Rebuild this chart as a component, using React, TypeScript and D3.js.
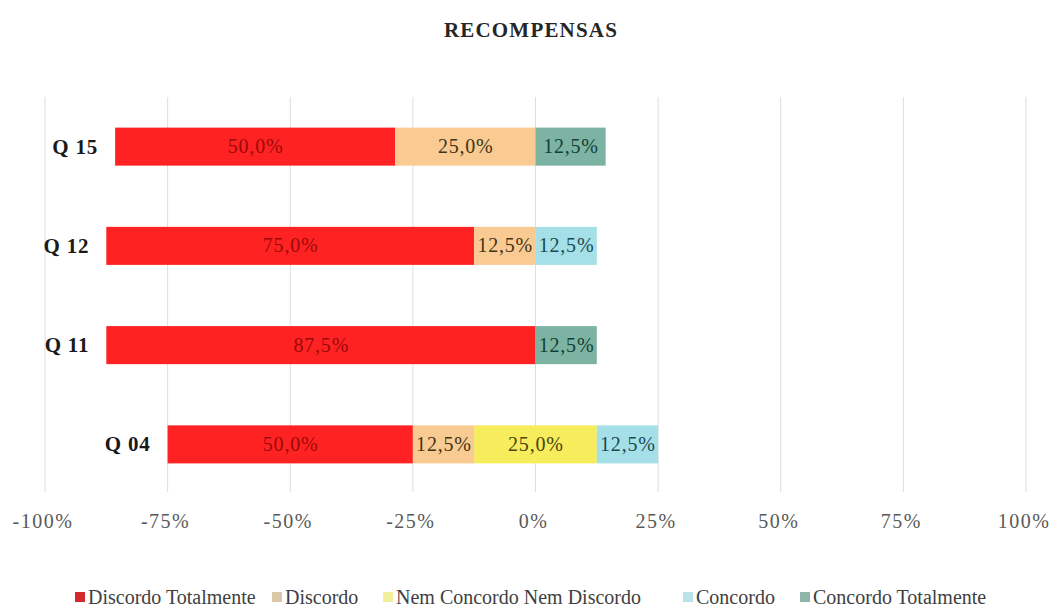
import React from "react";
import * as d3 from "d3";

// ---- data ----
const categories = ["Q 15", "Q 12", "Q 11", "Q 04"];
const seriesNames = [
  "Discordo Totalmente",
  "Discordo",
  "Nem Concordo Nem Discordo",
  "Concordo",
  "Concordo Totalmente",
];
// bar lengths as drawn (percent)
const discordoTotalmente = [57.1, 75.0, 87.5, 50.0];
const discordo = [28.6, 12.5, 0, 12.5];
const nemConcordoNemDiscordo = [0, 0, 0, 25.0];
const concordo = [0, 12.5, 0, 12.5];
const concordoTotalmente = [14.3, 0, 12.5, 0];
// data labels as printed
const discordoTotalmenteLabels = ["50,0%", "75,0%", "87,5%", "50,0%"];
const discordoLabels = ["25,0%", "12,5%", "", "12,5%"];
const nemConcordoNemDiscordoLabels = ["", "", "", "25,0%"];
const concordoLabels = ["", "12,5%", "", "12,5%"];
const concordoTotalmenteLabels = ["12,5%", "", "12,5%", ""];
const xTicks = [-100, -75, -50, -25, 0, 25, 50, 75, 100];
const xTickLabels = ["-100%", "-75%", "-50%", "-25%", "0%", "25%", "50%", "75%", "100%"];

const colors = ["#FF2222", "#F9CB93", "#F6EC5C", "#A5E0E8", "#7DB3A3"];
const legendColors = ["#D42A2E", "#D9C7A8", "#F2EE9A", "#B8E2E8", "#8DB5A8"];
const labelColors = ["#9B0A0A", "#3F3415", "#4A4410", "#1C4A50", "#123F36"];

const FONT = "'Liberation Serif', 'Times New Roman', serif";

export default function App() {
  const W = 1057;
  const H = 610;
  const x = d3.scaleLinear().domain([-100, 100]).range([45, 1026]);
  const y = d3.scaleBand<string>().domain(categories).range([97, 494]).paddingInner(0.617).paddingOuter(0.3085);
  const gridTop = 97;
  const gridBottom = 492;

  const series = [
    discordoTotalmente,
    discordo,
    nemConcordoNemDiscordo,
    concordo,
    concordoTotalmente,
  ];
  const seriesLabels = [
    discordoTotalmenteLabels,
    discordoLabels,
    nemConcordoNemDiscordoLabels,
    concordoLabels,
    concordoTotalmenteLabels,
  ];

  const rows = categories.map((cat, i) => {
    const start = -(series[0][i] + series[1][i] + series[2][i] / 2);
    let acc = start;
    const segs = series.map((s, k) => {
      const seg = { k, x0: acc, x1: acc + s[i], label: seriesLabels[k][i] };
      acc += s[i];
      return seg;
    });
    return { cat, start, segs };
  });

  // legend layout (swatch positions)
  const legendFont = 20;
  const legendX = [75, 272, 383, 683, 800];
  const legendItems = seriesNames.map((n, k) => ({ n, k, x: legendX[k] }));

  const ff = { fontFamily: FONT };

  return (
    <div style={{ position: "fixed", left: 0, top: 0, width: W, height: H, background: "#fff" }}>
      <svg width={W} height={H} style={{ display: "block" }}>
        <rect width={W} height={H} fill="#fff" />
        <text style={ff} x={531} y={37} textAnchor="middle" fontSize={21} fontWeight="bold" letterSpacing={1.2} fill="#262626">
          RECOMPENSAS
        </text>
        {xTicks.map((t, i) => (
          <g key={t}>
            <line x1={x(t)} x2={x(t)} y1={gridTop} y2={gridBottom} stroke="#DEDEDE" strokeWidth={1} />
            <text style={ff} x={x(t) - 2} y={528} textAnchor="middle" fontSize={20} fill="#595959" letterSpacing={1.5}>
              {xTickLabels[i]}
            </text>
          </g>
        ))}
        {rows.map((r) => {
          const by = y(r.cat)!;
          const bh = y.bandwidth();
          return (
            <g key={r.cat}>
              <text style={ff} x={x(r.start) - 17} y={by + bh / 2} dy="0.33em" textAnchor="end" fontSize={21} fontWeight="bold" fill="#1a1a1a" letterSpacing={0.8}>
                {r.cat}
              </text>
              {r.segs.filter((s) => s.x1 > s.x0).map((s) => (
                <rect key={s.k} x={x(s.x0)} y={by} width={x(s.x1) - x(s.x0)} height={bh} fill={colors[s.k]} />
              ))}
              {r.segs.filter((s) => s.x1 > s.x0 && s.label).map((s) => (
                <text style={ff} key={"l" + s.k} x={(x(s.x0) + x(s.x1)) / 2 + 0.4} y={by + bh / 2} dy="0.33em" textAnchor="middle" fontSize={20} fill={labelColors[s.k]} letterSpacing={0.8}>
                  {s.label}
                </text>
              ))}
            </g>
          );
        })}
        {legendItems.map((it) => (
          <g key={it.n}>
            <rect x={it.x} y={592} width={10} height={10} fill={legendColors[it.k]} />
            <text style={ff} x={it.x + 13} y={597} dy="0.33em" fontSize={legendFont} fill="#404040">
              {it.n}
            </text>
          </g>
        ))}
      </svg>
    </div>
  );
}
